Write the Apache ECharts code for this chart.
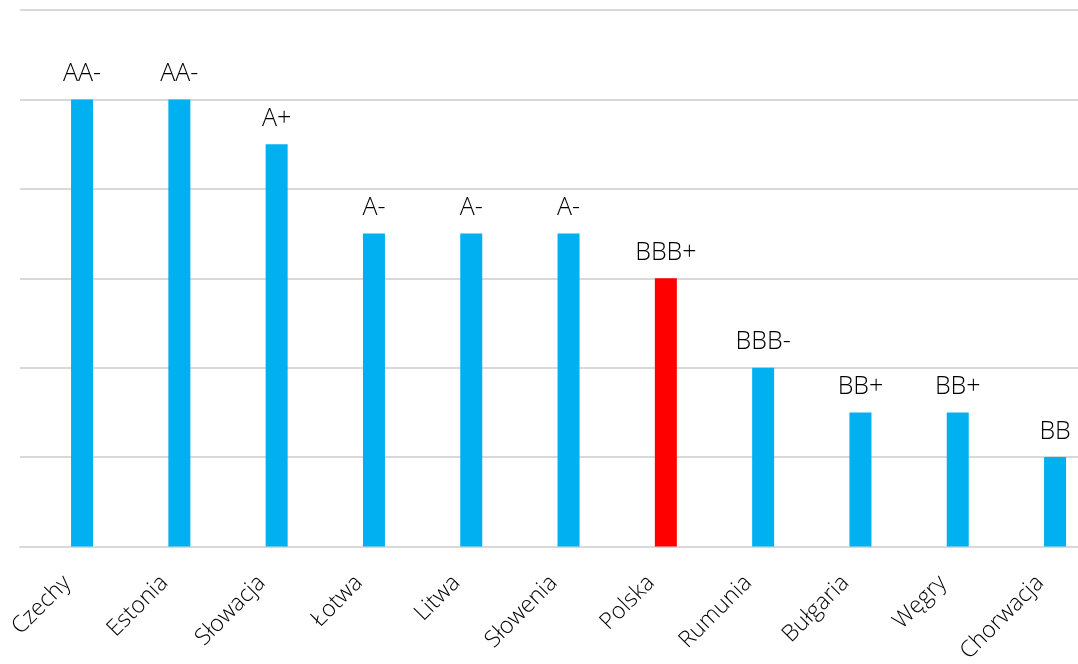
<!DOCTYPE html>
<html>
<head>
<meta charset="utf-8">
<script src="https://cdn.jsdelivr.net/npm/echarts@6/dist/echarts.min.js"></script>
<style>html,body{margin:0;padding:0;background:#fff}#c{width:1078px;height:664px}</style>
</head>
<body>
<div id="c"></div>
<script>
const categories = ['Czechy','Estonia','Słowacja','Łotwa','Litwa','Słowenia','Polska','Rumunia','Bułgaria','Węgry','Chorwacja'];
const ratings = ['AA-','AA-','A+','A-','A-','A-','BBB+','BBB-','BB+','BB+','BB'];
const scores = [10,10,9,7,7,7,6,4,3,3,2];
const highlight = 'Polska';
const yMin = 0, yMax = 12, yStep = 2;

const FONT = '"Open Sans", "Noto Sans", sans-serif';
const GRID_COLOR = '#d9d9d9';
const chart = echarts.init(document.getElementById('c'));
chart.setOption({
  animation: false,
  grid: [
    {left: 33.4, width: 1070.3, top: 10, bottom: 117.5, outerBoundsMode: 'none', containLabel: false},
    {left: 20, width: 14, top: 10, bottom: 117.5, outerBoundsMode: 'none', containLabel: false}
  ],
  xAxis: [
    {
      type: 'category', gridIndex: 0, data: categories,
      axisLine: {lineStyle: {color: GRID_COLOR, width: 2}},
      axisTick: {show: false},
      axisLabel: {rotate: 45, margin: 18, padding: [0, 21, 0, 0], fontSize: 23, color: '#000', fontFamily: FONT, fontWeight: 300, interval: 0}
    },
    {
      type: 'category', gridIndex: 1, data: [''],
      axisLine: {lineStyle: {color: GRID_COLOR, width: 2}},
      axisTick: {show: false}, axisLabel: {show: false}
    }
  ],
  yAxis: [
    {
      type: 'value', gridIndex: 0, min: yMin, max: yMax, interval: yStep,
      axisLine: {show: false}, axisTick: {show: false}, axisLabel: {show: false},
      splitLine: {lineStyle: {color: GRID_COLOR, width: 2}}
    },
    {
      type: 'value', gridIndex: 1, min: yMin, max: yMax, interval: yStep,
      axisLine: {show: false}, axisTick: {show: false}, axisLabel: {show: false},
      splitLine: {lineStyle: {color: GRID_COLOR, width: 2}}
    }
  ],
  series: [{
    type: 'bar', xAxisIndex: 0, yAxisIndex: 0,
    barWidth: 22,
    data: scores.map((v, i) => ({
      value: v,
      itemStyle: {color: categories[i] === highlight ? '#ff0000' : '#00b0f0'}
    })),
    label: {
      show: true, position: 'top', distance: 13,
      formatter: p => ratings[p.dataIndex],
      fontSize: 25, color: '#000', fontFamily: FONT, fontWeight: 300
    }
  }]
});
</script>
</body>
</html>
